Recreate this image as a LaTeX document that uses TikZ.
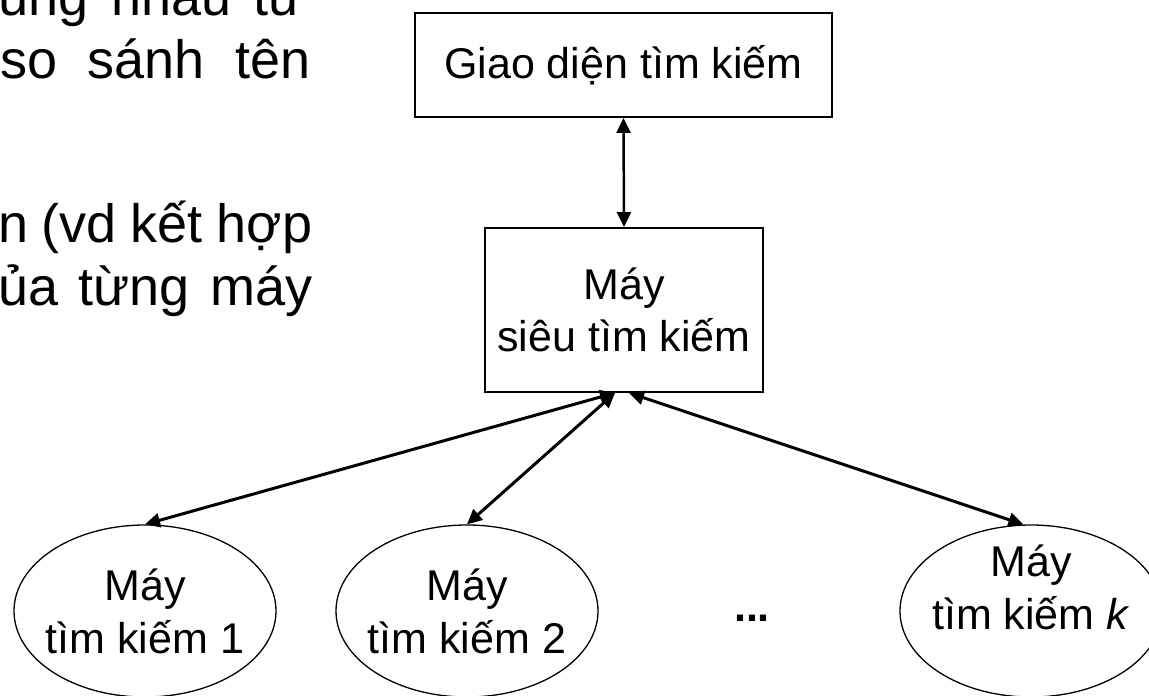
\documentclass[tikz,border=0pt]{standalone}
\usepackage{fontspec}
\setmainfont{Liberation Sans}
\usetikzlibrary{shapes.geometric,arrows.meta}

\begin{document}
\begin{tikzpicture}[x=1pt, y=-1pt,
    box/.style={draw, line width=1.8pt, inner sep=0pt, align=center, font=\fontsize{43}{52}\selectfont},
    engine/.style={ellipse, draw, line width=1.3pt, minimum width=262pt, minimum height=172pt, inner xsep=-7pt, inner ysep=0pt, align=center, font=\fontsize{43}{53}\selectfont},
    link/.style={line width=3pt, {Triangle[length=15pt,width=14pt]}-{Triangle[length=15pt,width=14pt]}},
    note/.style={anchor=base west, inner sep=0pt, font=\fontsize{54}{63}\selectfont}]

            \useasboundingbox (0,0) rectangle (1149,696);

            \node[note] (noteA) at (-2,15) {\makebox[307pt][s]{ùng nhau từ}};
            \node[note] (noteB) at (0,78) {\makebox[310pt][s]{so sánh tên}};
            \node[note] (noteC) at (-2,242) {\makebox[314pt][s]{n (vd kết hợp}};
            \node[note] (noteD) at (-2,305) {\makebox[314pt][s]{ủa từng máy}};

            \node[box, minimum width=417pt, minimum height=104pt] (ui) at (623.5,65) {Giao diện tìm kiếm};
            \node[box, minimum width=278pt, minimum height=164pt] (meta) at (624,310) {Máy\\siêu tìm kiếm};

            \node[engine] (se1) at (145,611) {Máy\\tìm kiếm 1};
            \node[engine] (se2) at (467,611) {Máy\\tìm kiếm 2};
            \node[engine] (sek) at (1031,611) {\raisebox{19pt}[\height][\depth]{\begin{tabular}{@{}c@{}}Máy\\tìm kiếm \textit{k}\end{tabular}}};
            \node[inner sep=0pt, anchor=base, font=\fontsize{43}{52}\selectfont\bfseries] (dots) at (752,621) {...};

            \coordinate (hubL) at ([xshift=-9pt]meta.south);
            \coordinate (hubR) at ([xshift=5pt]meta.south);

            \draw[link, line width=2.5pt] (ui.south) -- (meta.north);
            \draw[link] (hubL) -- (se1.north);
            \draw[link] (hubL) -- (se2.north);
            \draw[link] (hubR) -- (sek.95);
        \end{tikzpicture}
\end{document}
